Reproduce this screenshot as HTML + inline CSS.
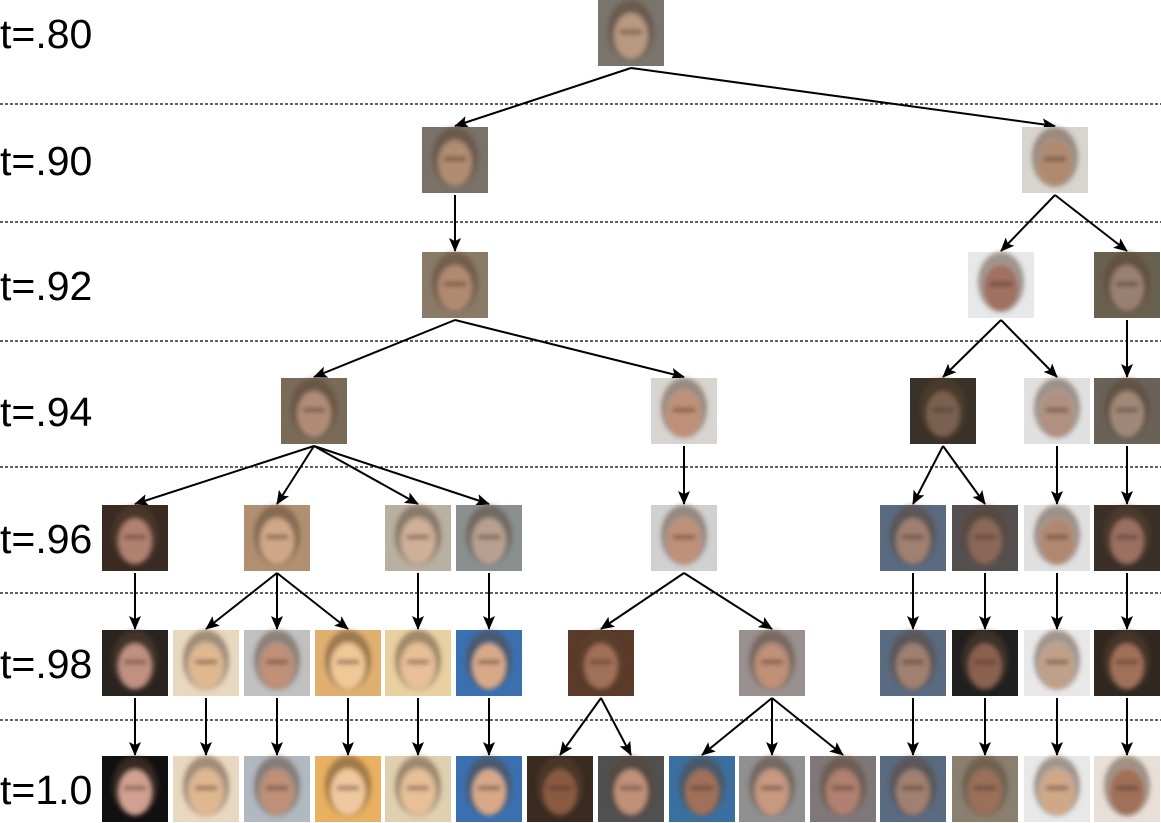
<!DOCTYPE html>
<html><head><meta charset="utf-8">
<style>
html,body{margin:0;padding:0;background:#fff;}
#wrap{position:relative;width:1161px;height:823px;overflow:hidden;}
.lbl{position:absolute;left:0;font-family:"Liberation Sans Narrow","Liberation Sans",sans-serif;font-size:41px;color:#000;line-height:40px;}
</style></head>
<body>
<div id="wrap">
<svg id="svg" width="1161" height="823" style="position:absolute;left:0;top:0">
<defs><marker id="ah" markerWidth="14" markerHeight="12" refX="13" refY="6" orient="auto" markerUnits="userSpaceOnUse"><path d="M0,0 L14,6 L0,12 L3,6 z" fill="#000"/></marker>
<filter id="bl"><feGaussianBlur stdDeviation="2.5"/></filter></defs>
</svg>
</div>
<script>
const rowLabels=["t=.80","t=.90","t=.92","t=.94","t=.96","t=.98","t=1.0"];
const rowTops=[0,127,252,378,505,630,756];
const sepYs=[104,222,341,467,593,720];
const nodeRows=[0,1,1,2,2,2,3,3,3,3,3,4,4,4,4,4,4,4,4,4,5,5,5,5,5,5,5,5,5,5,5,5,6,6,6,6,6,6,6,6,6,6,6,6,6,6,6];
const nodeXs=[631,455,1055,455,1001,1127,314,684,943,1057,1127,135,277,418,489,684,913,985,1057,1127,135,206,277,348,418,489,601,772,913,985,1057,1127,135,206,277,348,418,489,560,631,702,772,843,913,985,1057,1127];
const parents=[-1,0,0,1,2,2,3,3,4,4,5,6,6,6,6,7,8,8,9,10,11,12,12,12,13,14,15,15,16,17,18,19,20,21,22,23,24,25,26,26,27,27,27,28,29,30,31];
const bgs=["#7a746c","#7a7268","#d8d4ce","#8a7a68","#e6e8ea","#6a6050","#7a6a58","#d8d4d0","#3a3228","#e0e0e0","#6a6258","#3a2a22","#b09070","#b8b0a0","#8a9090","#d0d0d0","#5a6a80","#555050","#e0e0e0","#3a3028","#2a2420","#e8d8c0","#c0c0c0","#e0b070","#e8d0a0","#3a70b0","#5a3a28","#9a9090","#5a6a80","#202020","#e8e8e8","#302820","#101010","#e8d8c0","#b0b8c0","#e8b060","#e0d0b0","#3a70b0","#3a2a20","#505050","#3a70a0","#909090","#807878","#5a6a80","#8a8070","#e8e8e8","#e8e0d8"];
const skins=["#b89880","#b08c70","#b08a70","#b08a70","#a07060","#9a8070","#b08c78","#c09078","#7a6050","#b09080","#a08878","#b08070","#d0a888","#d0b098","#b8a090","#c09078","#a08070","#8a6858","#b08870","#9a7060","#c09080","#e0b890","#c09078","#f0c898","#e8c098","#d8a888","#a07058","#c09078","#a08070","#8a6050","#c0a088","#a07058","#d0a090","#e0b890","#c09078","#f0c8a0","#e8c098","#d8a888","#8a5a40","#c09078","#a07058","#c89880","#b08070","#a08070","#9a7058","#d0a888","#a07058"];
const svg=document.getElementById('svg');
const NS='http://www.w3.org/2000/svg';
const S=66;
function cy(i){return rowTops[nodeRows[i]];}
sepYs.forEach(function(y,k){
  const l=document.createElementNS(NS,'line');
  l.setAttribute('x1',0);l.setAttribute('x2',1161);l.setAttribute('y1',y);l.setAttribute('y2',y);
  l.setAttribute('stroke','#000');l.setAttribute('stroke-width','1.3');l.setAttribute('stroke-dasharray','3,2');
  
  
  svg.appendChild(l);
});
parents.forEach(function(p,i){
  if(p<0)return;
  const l=document.createElementNS(NS,'line');
  l.setAttribute('x1',nodeXs[p]);l.setAttribute('y1',cy(p)+S+2);
  l.setAttribute('x2',nodeXs[i]);l.setAttribute('y2',cy(i)-1);
  l.setAttribute('stroke','#000');l.setAttribute('stroke-width','2');l.setAttribute('marker-end','url(#ah)');
  
  
  svg.appendChild(l);
});
nodeXs.forEach(function(x,i){
  const g=document.createElementNS(NS,'g');
  
  
  const y=cy(i),x0=x-S/2;
  const r=document.createElementNS(NS,'rect');
  r.setAttribute('x',x0);r.setAttribute('y',y);r.setAttribute('width',S);r.setAttribute('height',S);r.setAttribute('fill',bgs[i]);
  g.appendChild(r);
  const inner=document.createElementNS(NS,'g');
  inner.setAttribute('filter','url(#bl)');
  const h=document.createElementNS(NS,'ellipse');
  h.setAttribute('cx',x);h.setAttribute('cy',y+30);h.setAttribute('rx',23);h.setAttribute('ry',30);h.setAttribute('fill','#5a4030');h.setAttribute('opacity','0.5');
  inner.appendChild(h);
  const f=document.createElementNS(NS,'ellipse');
  f.setAttribute('cx',x);f.setAttribute('cy',y+36);f.setAttribute('rx',17);f.setAttribute('ry',23);f.setAttribute('fill',skins[i]);
  inner.appendChild(f);
  const e=document.createElementNS(NS,'rect');
  e.setAttribute('x',x-11);e.setAttribute('y',y+30);e.setAttribute('width',22);e.setAttribute('height',4);e.setAttribute('fill','#4a3028');e.setAttribute('opacity','0.6');
  inner.appendChild(e);
  g.appendChild(inner);
  svg.appendChild(g);
});
const wrap=document.getElementById('wrap');
rowLabels.forEach(function(t,k){
  const d=document.createElement('div');
  d.className='lbl';d.textContent=t;d.style.top=(rowTops[k]+14)+'px';
  
  
  wrap.appendChild(d);
});
</script>
</body></html>
